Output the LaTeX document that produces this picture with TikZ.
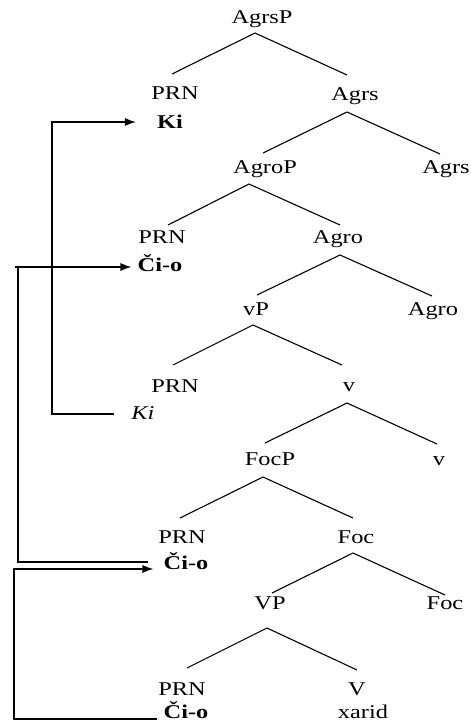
\documentclass[tikz,border=0pt]{standalone}
\usepackage{fontspec}
\setmainfont{Liberation Serif}[FakeStretch=1.25]
\usetikzlibrary{arrows.meta}

\begin{document}
\begin{tikzpicture}[x=1pt,y=-1pt,
  lbl/.style={inner sep=0pt,anchor=base,font=\fontsize{19.5}{23}\selectfont},
  wd/.style={lbl,font=\fontsize{19.5}{23}\selectfont\bfseries},
  br/.style={line width=1.1pt},
  mv/.style={line width=1.2pt,-{Latex[length=11pt,width=8pt]}},
  ln/.style={line width=1.2pt}]
\useasboundingbox (0,0) rectangle (471,726);

% ---- labels of the tree ----
\node[lbl] (agrsP) at (262,23)  {AgrsP};
\node[lbl] (prn1)  at (175,99)  {PRN};
\node[wd]  (ki)    at (170,128) {Ki};
\node[lbl] (agrs1) at (355,100) {Agrs};
\node[lbl] (agroP) at (265,173) {AgroP};
\node[lbl] (agrs0) at (446,173) {Agrs};
\node[lbl] (prn2)  at (162,243) {PRN};
\node[wd]  (cio1)  at (160,271) {Či-o};
\node[lbl] (agro1) at (338,243) {Agro};
\node[lbl] (vP)    at (256,315) {vP};
\node[lbl] (agro0) at (433,315) {Agro};
\node[lbl] (prn3)  at (175,392) {PRN};
\node[lbl] (kiit)  at (143,419) {\itshape Ki};
\node[lbl] (v1)    at (349,391) {v};
\node[lbl] (focP)  at (270,465) {FocP};
\node[lbl] (v0)    at (439,465) {v};
\node[lbl] (prn4)  at (182,543) {PRN};
\node[wd]  (cio2)  at (186,569) {Či-o};
\node[lbl] (foc1)  at (356,543) {Foc};
\node[lbl] (VP)    at (270,609) {VP};
\node[lbl] (foc0)  at (445,609) {Foc};
\node[lbl] (prn5)  at (182,695) {PRN};
\node[wd]  (cio3)  at (186,718) {Či-o};
\node[lbl] (V)     at (357,695) {V};
\node[lbl] (xarid) at (363,718) {xarid};

% ---- branches: apex, left end, right end ----
\coordinate (a1) at (255,33);  \coordinate (a1l) at (172,74);  \coordinate (a1r) at (347,75);
\coordinate (a2) at (347,112); \coordinate (a2l) at (263,153); \coordinate (a2r) at (440,154);
\coordinate (a3) at (249,184); \coordinate (a3l) at (168,225); \coordinate (a3r) at (340,225);
\coordinate (a4) at (340,255); \coordinate (a4l) at (257,295); \coordinate (a4r) at (432,296);
\coordinate (a5) at (253,325); \coordinate (a5l) at (173,365); \coordinate (a5r) at (342,365);
\coordinate (a6) at (347,403); \coordinate (a6l) at (265,443); \coordinate (a6r) at (437,444);
\coordinate (a7) at (263,477); \coordinate (a7l) at (180,518); \coordinate (a7r) at (353,518);
\coordinate (a8) at (353,553); \coordinate (a8l) at (272,593); \coordinate (a8r) at (445,595);
\coordinate (a9) at (267,628); \coordinate (a9l) at (187,668); \coordinate (a9r) at (357,670);
\foreach \n in {1,...,9}{
  \draw[br] (a\n l) -- (a\n) -- (a\n r);
}

% ---- movement arrows ----
\coordinate (laneA) at (52,0);
\coordinate (laneB) at (18,0);
\coordinate (laneC) at (14,0);

\coordinate (kiS)  at ([xshift=-17pt,yshift=5pt]kiit.base west);
\coordinate (kiT)  at ([xshift=-21pt,yshift=6pt]ki.base west);
\draw[mv] (kiS) -| (laneA |- kiT) -- (kiT);

\coordinate (c2S)  at ([xshift=-15pt,yshift=7pt]cio2.base west);
\coordinate (c1T)  at ([xshift=-6pt,yshift=4pt]cio1.base west);
\draw[ln] (c2S) -| (laneB |- c1T);
\draw[mv] ([xshift=-3pt]laneB |- c1T) -- (c1T);

\coordinate (c3S)  at ([xshift=-6pt,yshift=-1pt]cio3.base west);
\coordinate (c2T)  at ([xshift=-10pt]cio2.base west);
\draw[mv] (c3S) -| (laneC |- c2T) -- (c2T);
\end{tikzpicture}
\end{document}
